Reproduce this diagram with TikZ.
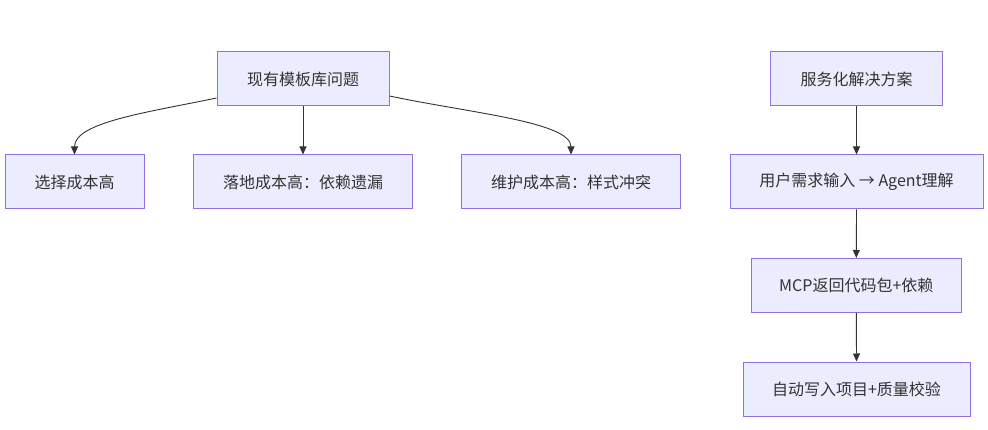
\documentclass[tikz,border=0pt]{standalone}
\usepackage{fontspec}
\setmainfont{Noto Sans CJK SC}
\usetikzlibrary{arrows.meta,calc}
\definecolor{boxfill}{HTML}{ECECFF}
\definecolor{boxline}{HTML}{9370DB}
\definecolor{ink}{HTML}{333333}
\tikzset{
  box/.style={draw=boxline, fill=boxfill, line width=1pt, text=ink, inner sep=0pt,
    minimum height=54pt, font=\fontsize{16pt}{18pt}\selectfont},
  conn/.style={draw=ink, line width=0.9pt, -{Triangle[length=8pt,width=7pt]}},
}
\begin{document}
\begin{tikzpicture}[x=1pt,y=-1pt]
\useasboundingbox (0,0) rectangle (988,430);
\node[box, minimum width=172pt] (A) at (303,79) {现有模板库问题};
\node[box, minimum width=139pt] (B) at (74.5,182) {选择成本高};
\node[box, minimum width=219pt] (C) at (303,182) {落地成本高：依赖遗漏};
\node[box, minimum width=219pt] (D) at (571,182) {维护成本高：样式冲突};
\node[box, minimum width=172pt] (E) at (856.5,79) {服务化解决方案};
\node[box, minimum width=253pt] (F) at (856.5,182) {用户需求输入 → Agent理解};
\node[box, minimum width=209.5pt] (G) at (856.3,285.5) {MCP返回代码包+依赖};
\node[box, minimum width=227pt] (H) at (856.5,389) {自动写入项目+质量校验};
\draw[conn] ($(A.west)+(0,19)$) .. controls (150,112) and (74.5,122) .. (B.north);
\draw[conn] (A.south) -- (C.north);
\draw[conn] ($(A.east)+(0,17)$) .. controls (470,113) and (571,122) .. (D.north);
\draw[conn] (E.south) -- (F.north);
\draw[conn] (F.south) -- (G.north);
\draw[conn] (G.south) -- (H.north);
\end{tikzpicture}
\end{document}
